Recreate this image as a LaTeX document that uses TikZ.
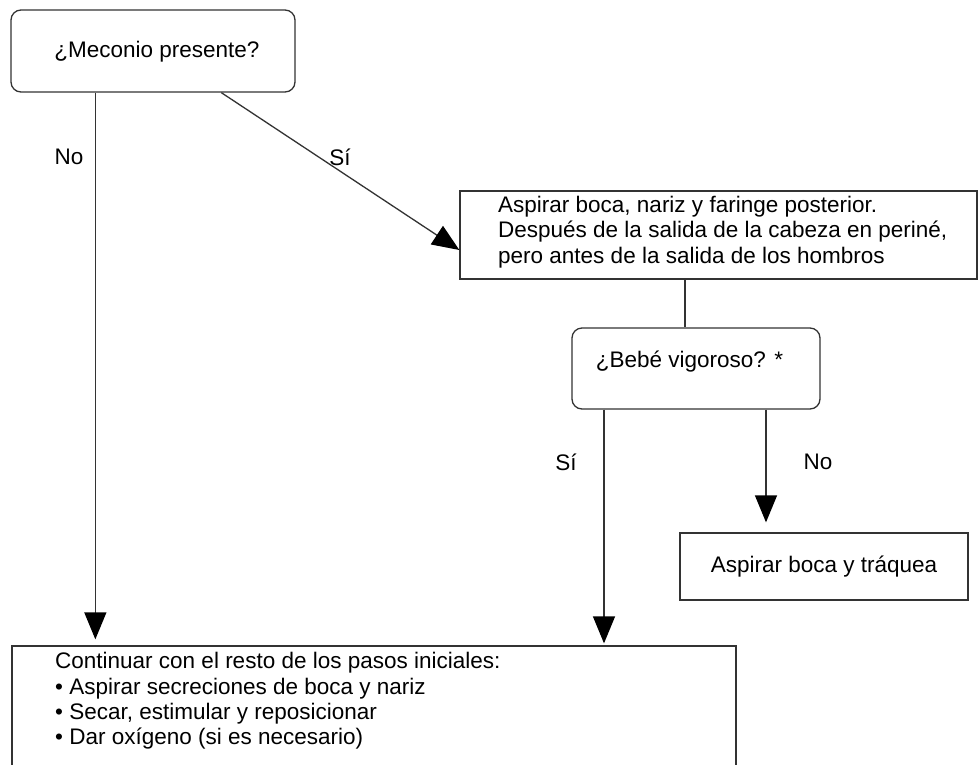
\documentclass[tikz,border=0pt]{standalone}
\usepackage{fontspec}
\setmainfont{Liberation Sans}
\usetikzlibrary{arrows.meta}
\begin{document}
\begin{tikzpicture}[x=1pt,y=-1pt,
  every node/.style={font=\fontsize{22.5pt}{25.3pt}\selectfont, text=black},
  boxr/.style={draw=black!80, line width=1.3pt, rounded corners=10pt, inner sep=0pt},
  boxs/.style={draw=black!80, line width=1.3pt, inner sep=0pt},
  txt/.style={inner sep=0pt, align=left},
  conn/.style={draw=black!80, line width=1.3pt},
  arr/.style={conn, -{Triangle[width=22pt,length=27pt,fill=black,color=black]}}
]
\clip (0,0) rectangle (978,764);
\fill[white] (0,0) rectangle (978,764);

% boxes
\node[boxr, minimum width=284pt, minimum height=82pt] (b1) at (153,51) {};
\node[txt] (t1) at (157,52) {¿Meconio presente?};

\node[boxs, minimum width=517pt, minimum height=88pt] (b2) at (718.5,235) {};
\node[txt, anchor=west] (t2) at (498,232) {Aspirar boca, nariz y faringe posterior.\\Después de la salida de la cabeza en periné,\\pero antes de la salida de los hombros};

\node[boxr, minimum width=248pt, minimum height=81pt] (b3) at (696,368.5) {};
\node[txt] (t3) at (689.5,362) {¿Bebé vigoroso? *};

\node[boxs, minimum width=288pt, minimum height=67pt] (b4) at (824,566.5) {Aspirar boca y tráquea};

\node[boxs, minimum width=724pt, minimum height=140pt] (b5) at (374,716) {};
\node[txt, anchor=west] (t5) at (55,701) {Continuar con el resto de los pasos iniciales:\\• Aspirar secreciones de boca y nariz\\• Secar, estimular y reposicionar\\• Dar oxígeno (si es necesario)};

% connectors
\coordinate (n1) at ([xshift=85pt]b1.south west);
\draw[arr, shorten >=6pt] (n1) -- (n1 |- b5.north);
\node[txt] (lno1) at (69,157) {No};

\coordinate (s1) at ([xshift=211pt]b1.south west);
\coordinate (s1e) at ([yshift=-15pt]b2.west);
\draw[arr] (s1) -- (s1e);
\node[txt] (lsi1) at (340,157) {Sí};

\coordinate (c23) at ([xshift=-11pt]b3.north);
\draw[conn] (c23 |- b2.south) -- (c23);

\coordinate (s3) at ([xshift=-92pt]b3.south);
\draw[arr, shorten >=2pt] (s3) -- (s3 |- b5.north);
\node[txt] (lsi2) at (566,462) {Sí};

\coordinate (n3) at ([xshift=70pt]b3.south);
\draw[arr, shorten >=10pt] (n3) -- (n3 |- b4.north);
\node[txt] (lno2) at (818,462) {No};
\end{tikzpicture}
\end{document}
